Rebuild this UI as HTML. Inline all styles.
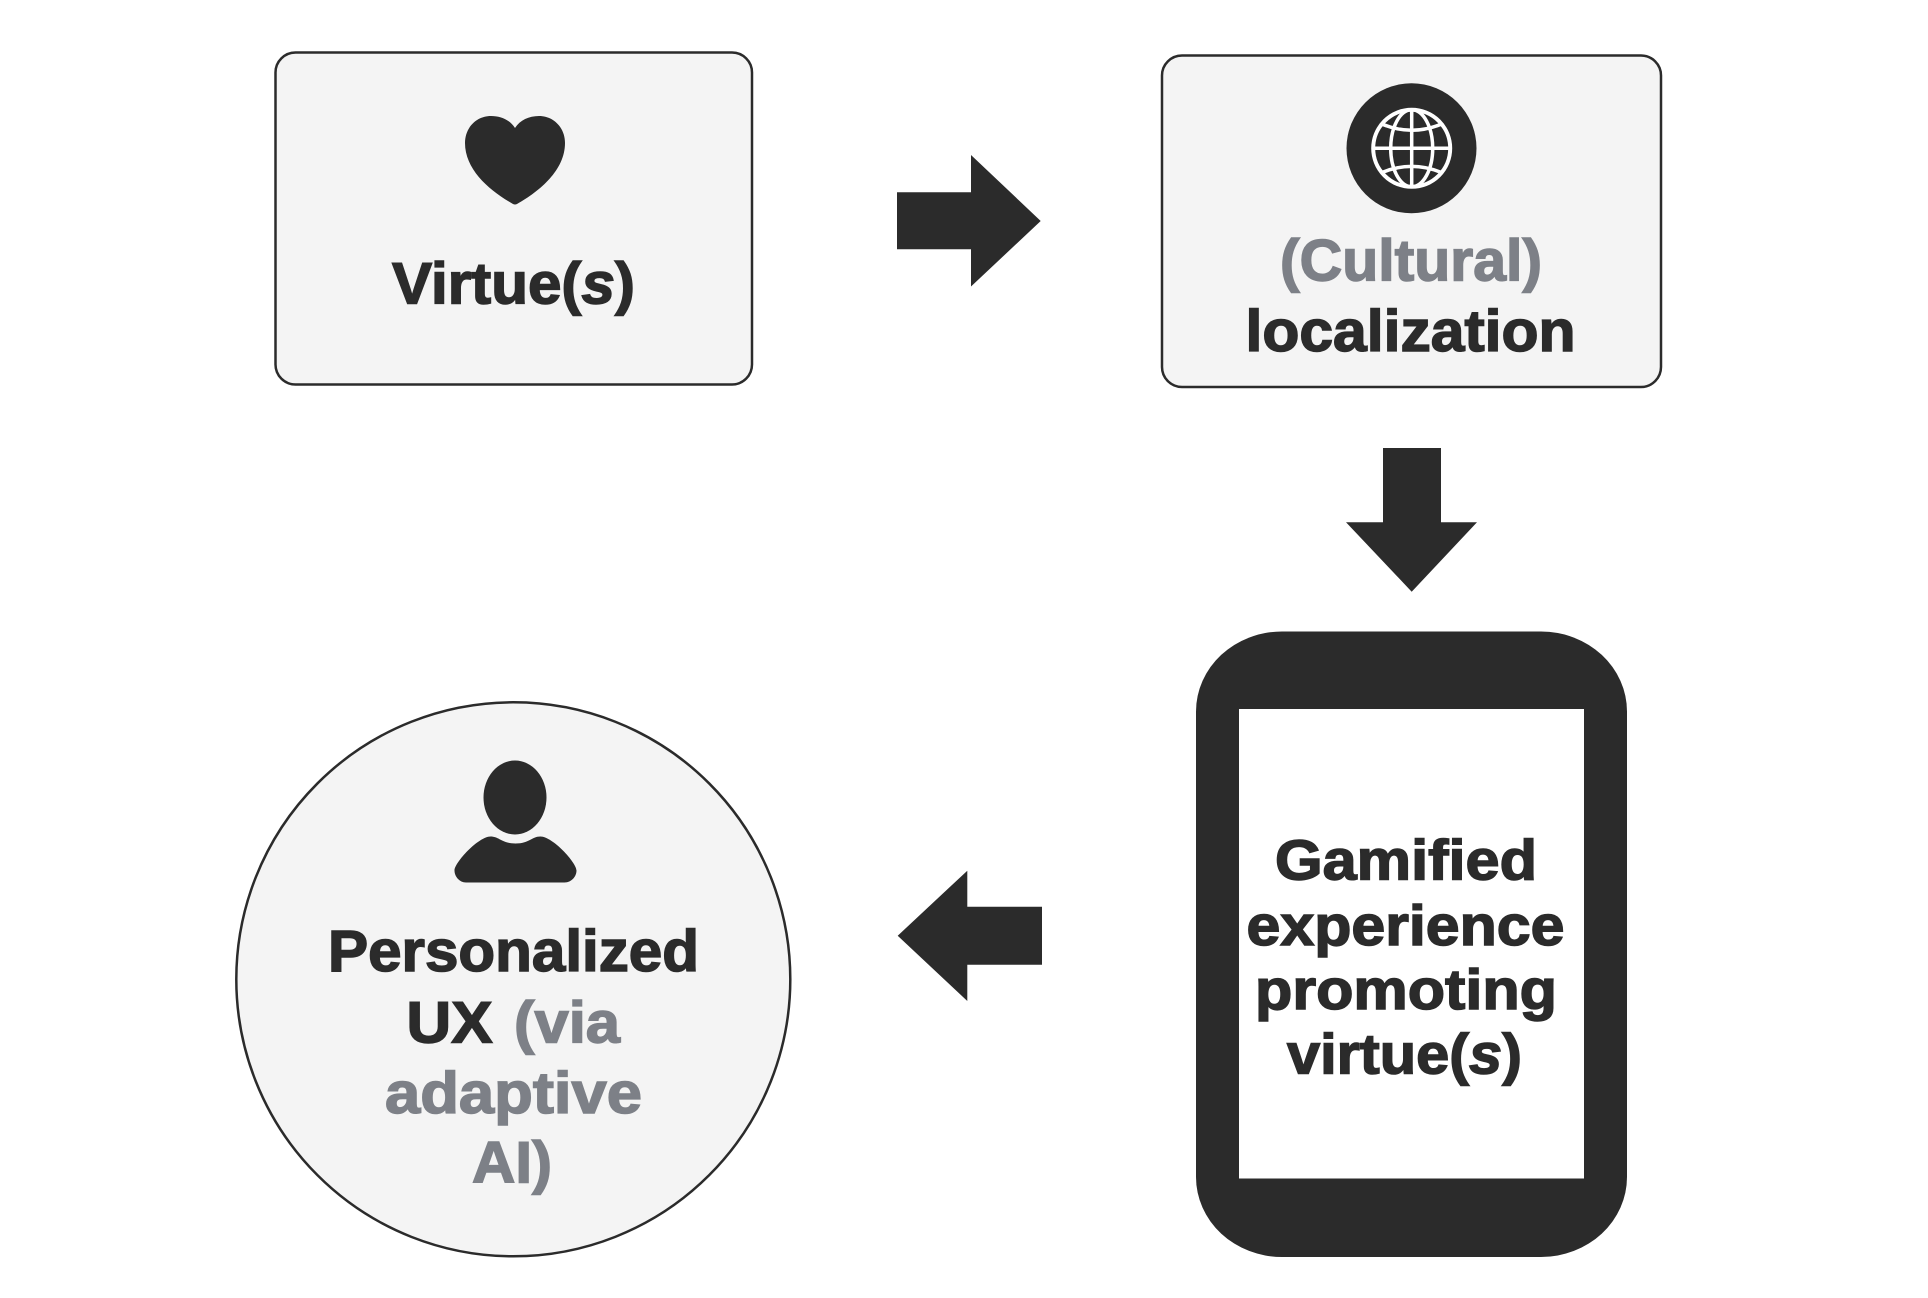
<!DOCTYPE html>
<html>
<head>
<meta charset="utf-8">
<style>
html,body{margin:0;padding:0;background:#fff;}
svg{display:block;}
text{font-family:"Liberation Sans",sans-serif;font-weight:bold;}
.d{fill:#2b2b2b;stroke:#2b2b2b;stroke-width:1.5;}
.g{fill:#7d8087;stroke:#7d8087;stroke-width:1.5;}
</style>
</head>
<body>
<svg width="1928" height="1298" viewBox="0 0 1928 1298" xmlns="http://www.w3.org/2000/svg">
<rect width="1928" height="1298" fill="#fff"/>

<!-- Box 1 -->
<rect x="275.5" y="52.5" width="476.5" height="332" rx="20" ry="20" fill="#f4f4f4" stroke="#2b2b2b" stroke-width="2.5"/>
<path d="M515 128 C510 120 501 116 491 116 C476 116 465 128 465 143 C465 170 490 191 513 204 Q515 205 517 204 C540 191 565 170 565 143 C565 128 554 116 539 116 C529 116 520 120 515 128Z" fill="#2b2b2b"/>
<text class="d" x="392" y="303.3" font-size="58" textLength="243" lengthAdjust="spacingAndGlyphs">Virtue(<tspan font-style="italic">s</tspan>)</text>

<!-- Arrow right -->
<polygon points="897,192.3 971,192.3 971,155 1040.7,221 971,286.5 971,249.3 897,249.3" fill="#2b2b2b"/>

<!-- Box 2 -->
<rect x="1162" y="55.5" width="499" height="331.5" rx="20" ry="20" fill="#f4f4f4" stroke="#2b2b2b" stroke-width="2.5"/>
<circle cx="1411.5" cy="148.3" r="65" fill="#2b2b2b"/>
<g fill="none" stroke="#fff" stroke-width="3.5">
  <circle cx="1411.7" cy="148.3" r="38.5" stroke-width="4"/>
  <ellipse cx="1411.7" cy="148.3" rx="21" ry="38.5"/>
  <line x1="1411.7" y1="110" x2="1411.7" y2="187"/>
  <line x1="1373" y1="148.3" x2="1450" y2="148.3"/>
  <path d="M1383 124.5 Q1411.7 136 1440.4 124.5"/>
  <path d="M1383 172.1 Q1411.7 160.6 1440.4 172.1"/>
</g>
<text class="g" x="1280" y="280.7" font-size="58" textLength="262" lengthAdjust="spacingAndGlyphs">(Cultural)</text>
<text class="d" x="1245.5" y="351" font-size="58" textLength="330" lengthAdjust="spacingAndGlyphs">localization</text>

<!-- Arrow down -->
<polygon points="1383,448 1441,448 1441,522.3 1477,522.3 1411.7,591.7 1346,522.3 1383,522.3" fill="#2b2b2b"/>

<!-- Phone -->
<rect x="1196" y="631.5" width="431" height="625.5" rx="86" ry="80" fill="#2b2b2b"/>
<rect x="1239" y="709" width="345" height="469.5" fill="#fff"/>
<text class="d" x="1275" y="879.6" font-size="57" textLength="262" lengthAdjust="spacingAndGlyphs">Gamified</text>
<text class="d" x="1246.5" y="945" font-size="57" textLength="318" lengthAdjust="spacingAndGlyphs">experience</text>
<text class="d" x="1255" y="1009" font-size="57" textLength="302" lengthAdjust="spacingAndGlyphs">promoting</text>
<text class="d" x="1287" y="1073.4" font-size="57" textLength="235" lengthAdjust="spacingAndGlyphs">virtue(<tspan font-style="italic">s</tspan>)</text>

<!-- Arrow left -->
<polygon points="1042,906.7 967.3,906.7 967.3,870.7 897.7,935.7 967.3,1001 967.3,964.7 1042,964.7" fill="#2b2b2b"/>

<!-- Circle -->
<circle cx="513.3" cy="979.3" r="277" fill="#f4f4f4" stroke="#2b2b2b" stroke-width="2.5"/>
<ellipse cx="515" cy="797.5" rx="31.5" ry="37" fill="#2b2b2b"/>
<path d="M466 882.5 H564.5 C571.5 882.5 576.5 876.5 576.5 870.5 C576.5 862.5 552.5 836.5 540.5 836.5 C531.5 836.5 529.5 843.5 515.5 843.5 C501.5 843.5 499.5 836.5 490.5 836.5 C478.5 836.5 454.5 862.5 454.5 870.5 C454.5 876.5 459.5 882.5 466 882.5Z" fill="#2b2b2b"/>
<text class="d" x="328" y="971" font-size="58" textLength="371" lengthAdjust="spacingAndGlyphs">Personalized</text>
<text class="d" x="406.5" y="1042.7" font-size="58" textLength="86" lengthAdjust="spacingAndGlyphs">UX</text>
<text class="g" x="514" y="1042.7" font-size="58" textLength="106" lengthAdjust="spacingAndGlyphs">(via</text>
<text class="g" x="385" y="1113" font-size="58" textLength="257" lengthAdjust="spacingAndGlyphs">adaptive</text>
<text class="g" x="472" y="1182.5" font-size="58" textLength="80" lengthAdjust="spacingAndGlyphs">AI)</text>
</svg>
</body>
</html>
